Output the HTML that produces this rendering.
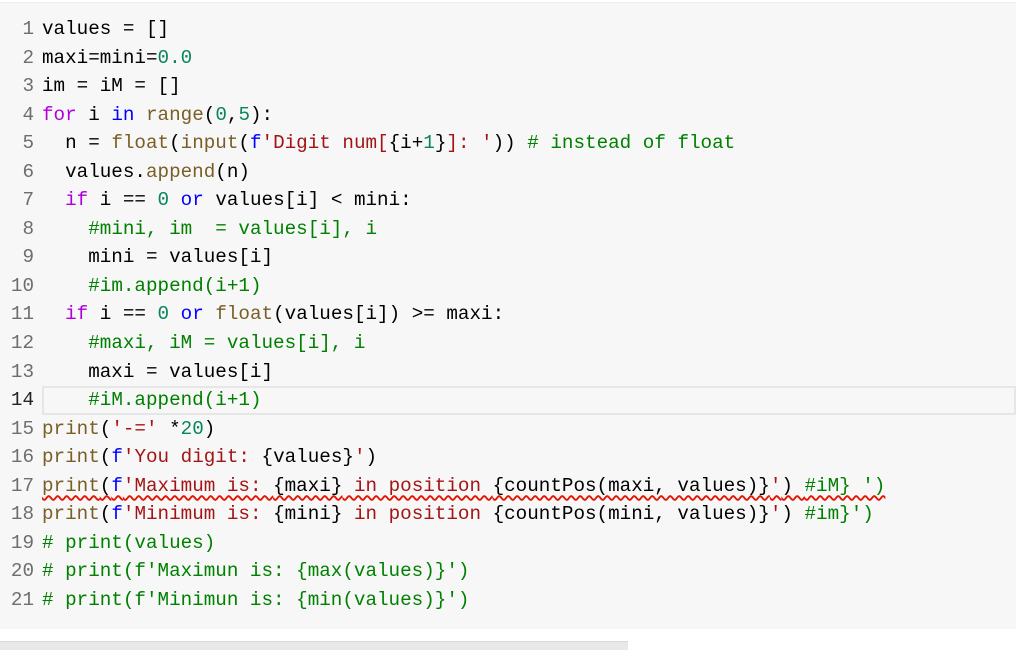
<!DOCTYPE html>
<html><head><style>
body{margin:0;width:1016px;height:649px;background:#fff;overflow:hidden;position:relative}
.panel{position:absolute;left:0;top:2px;width:1016px;height:626px;background:#f7f7f7;border-top:1px solid #eee}
.bar{position:absolute;left:0;top:641px;width:628px;height:8px;background:#e8e8e8;border-top:1px solid #d8d8d8}
.code{position:absolute;left:0;top:15px;width:1016px;font-family:"Liberation Mono",monospace;font-size:19.25px;line-height:28.55px;color:#000}
.l{display:flex;height:28.55px}
.n{width:34px;text-align:right;color:#6e6e6e;padding-right:8px;white-space:pre}
.t{flex:1;white-space:pre}
.hl .t{background:#f7f7f7;box-shadow:inset 0 0 0 2px #e6e6e6}
.hl .n{color:#222}
.k{color:#af00db}.b{color:#0000ff}.f{color:#795e26}.d{color:#098658}.s{color:#a31515}.c{color:#008000}
.sq{text-decoration:underline wavy #e51400;text-decoration-skip-ink:none;text-underline-offset:4px}
</style></head><body>
<div class="panel"></div>
<div class="bar"></div>
<div class="code"><div class="l"><span class="n">1</span><span class="t">values = []</span></div><div class="l"><span class="n">2</span><span class="t">maxi=mini=<span class="d">0.0</span></span></div><div class="l"><span class="n">3</span><span class="t">im = iM = []</span></div><div class="l"><span class="n">4</span><span class="t"><span class="k">for</span> i <span class="b">in</span> <span class="f">range</span>(<span class="d">0</span>,<span class="d">5</span>):</span></div><div class="l"><span class="n">5</span><span class="t">  n = <span class="f">float</span>(<span class="f">input</span>(<span class="b">f</span><span class="s">'Digit num[</span>{i+<span class="d">1</span>}<span class="s">]: '</span>)) <span class="c"># instead of float</span></span></div><div class="l"><span class="n">6</span><span class="t">  values.<span class="f">append</span>(n)</span></div><div class="l"><span class="n">7</span><span class="t">  <span class="k">if</span> i == <span class="d">0</span> <span class="b">or</span> values[i] &lt; mini:</span></div><div class="l"><span class="n">8</span><span class="t">    <span class="c">#mini, im  = values[i], i</span></span></div><div class="l"><span class="n">9</span><span class="t">    mini = values[i]</span></div><div class="l"><span class="n">10</span><span class="t">    <span class="c">#im.append(i+1)</span></span></div><div class="l"><span class="n">11</span><span class="t">  <span class="k">if</span> i == <span class="d">0</span> <span class="b">or</span> <span class="f">float</span>(values[i]) &gt;= maxi:</span></div><div class="l"><span class="n">12</span><span class="t">    <span class="c">#maxi, iM = values[i], i</span></span></div><div class="l"><span class="n">13</span><span class="t">    maxi = values[i]</span></div><div class="l hl"><span class="n">14</span><span class="t">    <span class="c">#iM.append(i+1)</span></span></div><div class="l"><span class="n">15</span><span class="t"><span class="f">print</span>(<span class="s">'-='</span> *<span class="d">20</span>)</span></div><div class="l"><span class="n">16</span><span class="t"><span class="f">print</span>(<span class="b">f</span><span class="s">'You digit: </span>{values}<span class="s">'</span>)</span></div><div class="l"><span class="n">17</span><span class="t"><span class="sq"><span class="f">print</span>(<span class="b">f</span><span class="s">'Maximum is: </span>{maxi}<span class="s"> in position </span>{countPos(maxi, values)}<span class="s">'</span>) <span class="c">#iM} ')</span></span></span></div><div class="l"><span class="n">18</span><span class="t"><span class="f">print</span>(<span class="b">f</span><span class="s">'Minimum is: </span>{mini}<span class="s"> in position </span>{countPos(mini, values)}<span class="s">'</span>) <span class="c">#im}')</span></span></div><div class="l"><span class="n">19</span><span class="t"><span class="c"># print(values)</span></span></div><div class="l"><span class="n">20</span><span class="t"><span class="c"># print(f'Maximun is: {max(values)}')</span></span></div><div class="l"><span class="n">21</span><span class="t"><span class="c"># print(f'Minimun is: {min(values)}')</span></span></div></div>
</body></html>
